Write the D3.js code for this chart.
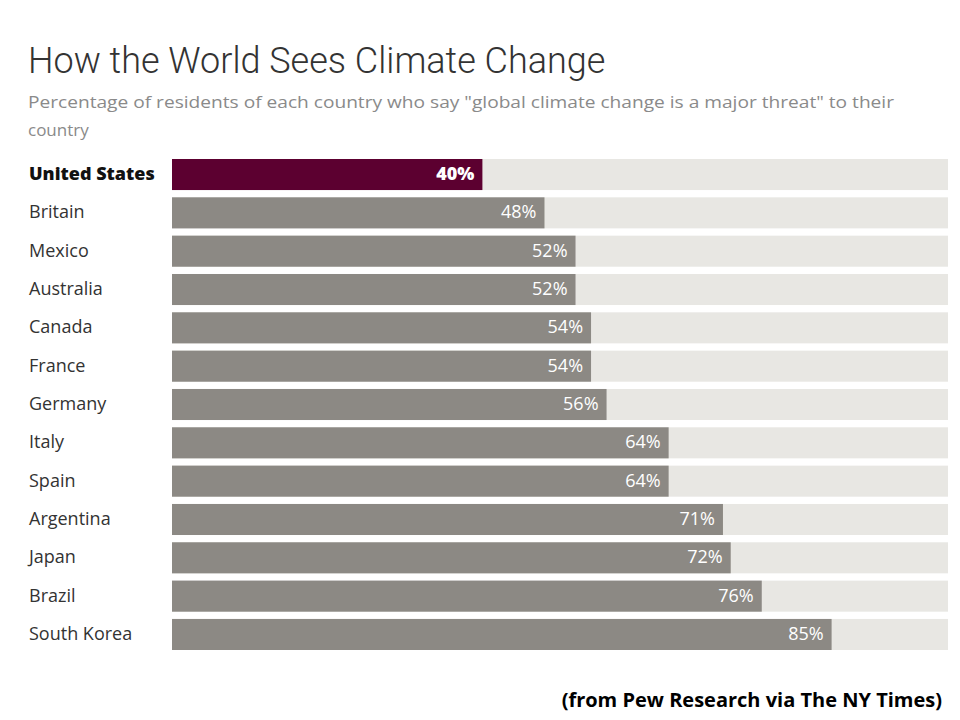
<!DOCTYPE html>
<html>
<head>
<meta charset="utf-8">
<script src="https://cdn.jsdelivr.net/npm/d3@7"></script>
<style>
  body { margin: 0; background: #fff; }
  svg { display: block; }
</style>
</head>
<body>
<div id="vis"></div>
<script>
// data
var countries = ["United States", "Britain", "Mexico", "Australia", "Canada", "France", "Germany",
                 "Italy", "Spain", "Argentina", "Japan", "Brazil", "South Korea"];
var shares = [40, 48, 52, 52, 54, 54, 56, 64, 64, 71, 72, 76, 85];
var highlight = ["United States"];

var width = 960, height = 720;
var svg = d3.select("#vis").append("svg")
    .attr("width", width)
    .attr("height", height);

var x = d3.scaleLinear().domain([0, 100]).range([172, 948]);
var y = d3.scaleBand().domain(countries).range([159, 650]).paddingInner(0.19).paddingOuter(0);

svg.append("text")
    .attr("x", 28).attr("y", 73)
    .style("font-family", "Roboto, sans-serif")
    .style("font-weight", 300)
    .style("font-size", "36px")
    .attr("fill", "#333")
    .text("How the World Sees Climate Change");

var sub = svg.append("text")
    .style("font-family", "'Open Sans', sans-serif")
    .style("font-size", "17px")
    .attr("fill", "#8a8a8a");
sub.append("tspan").attr("x", 28).attr("y", 108)
    .attr("textLength", 866).attr("lengthAdjust", "spacingAndGlyphs")
    .text("Percentage of residents of each country who say \"global climate change is a major threat\" to their");
sub.append("tspan").attr("x", 28).attr("y", 136).text("country");

var rows = svg.append("g").selectAll("g")
    .data(countries)
    .join("g");

// background track
rows.append("rect")
    .attr("x", x(0))
    .attr("y", d => y(d))
    .attr("width", x(100) - x(0))
    .attr("height", y.bandwidth())
    .attr("fill", "#e8e7e3");

rows.append("rect")
    .attr("x", x(0))
    .attr("y", d => y(d))
    .attr("width", (d, i) => x(shares[i]) - x(0))
    .attr("height", y.bandwidth())
    .attr("fill", d => highlight.includes(d) ? "#5c0030" : "#8c8984");

rows.append("text")
    .attr("x", 29)
    .attr("y", d => y(d) + y.bandwidth() / 2)
    .attr("dy", "0.3em")
    .style("font-family", "'Open Sans', sans-serif")
    .style("font-size", "18px")
    .style("font-weight", d => highlight.includes(d) ? 800 : 400)
    .attr("fill", d => highlight.includes(d) ? "#111" : "#333")
    .text(d => d);

rows.append("text")
    .attr("x", (d, i) => x(shares[i]) - 8)
    .attr("y", d => y(d) + y.bandwidth() / 2)
    .attr("dy", "0.3em")
    .attr("text-anchor", "end")
    .style("font-family", "'Open Sans', sans-serif")
    .style("font-size", "18px")
    .style("font-weight", d => highlight.includes(d) ? 800 : 400)
    .attr("fill", "#fff")
    .text((d, i) => shares[i] + "%");

svg.append("text")
    .attr("x", 942).attr("y", 707)
    .attr("text-anchor", "end")
    .style("font-family", "'Open Sans', sans-serif")
    .style("font-weight", 700)
    .style("font-size", "20px")
    .attr("fill", "#000")
    .text("(from Pew Research via The NY Times)");
</script>
</body>
</html>
